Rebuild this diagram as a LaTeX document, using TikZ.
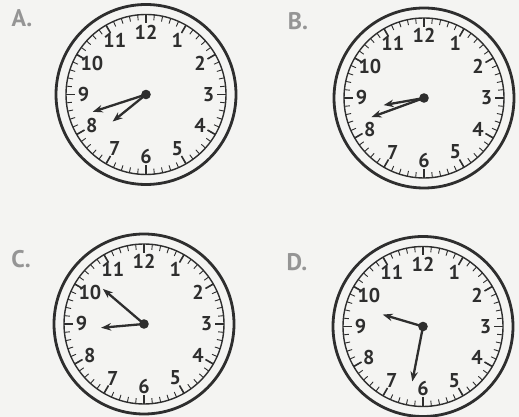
\documentclass[tikz,border=0pt]{standalone}
\usepackage{fontspec}
\setmainfont{PT Sans}
\usetikzlibrary{arrows.meta}

\definecolor{ink}{HTML}{2E2E2E}
\definecolor{labgray}{HTML}{959595}
\definecolor{paper}{HTML}{F4F4F2}

\begin{document}
\begin{tikzpicture}[x=1pt,y=1pt,>=Stealth,
  rim/.style={draw=ink,line width=2.8pt},
  face/.style={draw=ink,line width=1.4pt},
  minortick/.style={draw=ink,line width=0.9pt},
  majortick/.style={draw=ink,line width=1.6pt},
  num/.style={font=\fontsize{20}{20}\bfseries\selectfont,text=ink,inner sep=0pt},
  caption/.style={font=\fontsize{24}{24}\bfseries\selectfont,text=labgray,inner sep=0pt},
  hand/.style={draw=ink,line width=2.3pt,-{Stealth[length=10pt,width=7.5pt]}}]
  \fill[paper] (0,0) rectangle (519,417);
  \useasboundingbox (0,0) rectangle (519,417);
  % name / centre / caption / hour angle, length / minute angle, length
  \foreach \nm/\cx/\cy/\lx/\ly/\ha/\hl/\ma/\ml in
      {A/146/322.5/22/399/219/43/198/56,
       B/424/319/298/396/190/41/200/56,
       C/144/93/21/158/185/43/139.5/54,
       D/423/90.5/297/155/163.5/42/259/56}{
    \coordinate (c\nm) at (\cx,\cy);
    \node[caption] (lab\nm) at (\lx,\ly) {\nm.};
    \draw[rim] (c\nm) circle (90);
    \draw[face] (c\nm) circle (80);
    \foreach \k in {0,...,59}
      \draw[minortick] ([shift={(\k*6:80)}]c\nm) -- ([shift={(\k*6:74.5)}]c\nm);
    \foreach \k in {0,...,11}
      \draw[majortick] ([shift={(\k*30:80)}]c\nm) -- ([shift={(\k*30:71)}]c\nm);
    \foreach \n in {1,...,12}
      \node[num] (n\nm\n) at ([shift={(90-\n*30:62.5)}]c\nm) {\n};
    % hands
    \coordinate (ht\nm) at ([shift={(\ha:\hl)}]c\nm);
    \coordinate (mt\nm) at ([shift={(\ma:\ml)}]c\nm);
    \draw[hand] (c\nm) -- (ht\nm);
    \draw[hand] (c\nm) -- (mt\nm);
    \fill[ink] (c\nm) circle (4.8);
  }
\end{tikzpicture}
\end{document}
